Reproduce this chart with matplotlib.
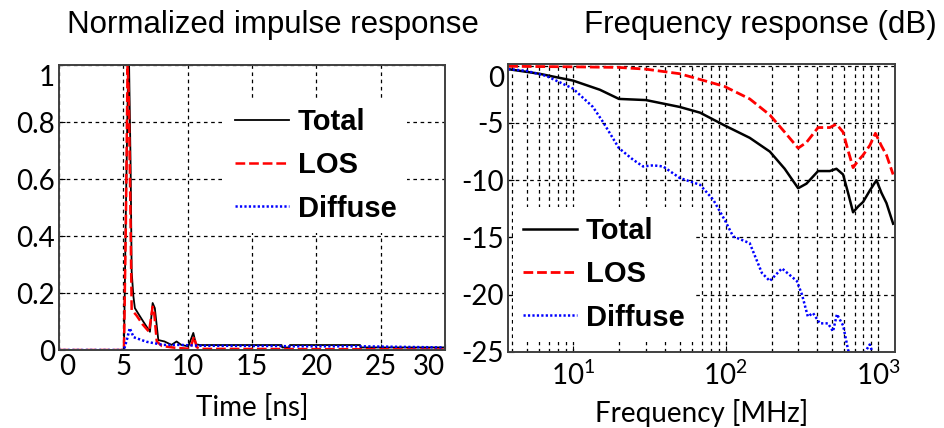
import matplotlib
matplotlib.use("Agg")
import matplotlib.pyplot as plt
from matplotlib.ticker import LogLocator, NullFormatter, FixedLocator

# impulse response (normalized), time in ns
total_t = [0, 5.05, 5.2, 5.38, 5.45, 5.57, 5.65, 5.78, 5.9, 6.2, 6.55, 7.07, 7.28, 7.45, 7.72,
           8.2, 8.75, 9.14, 9.5, 10.05, 10.44, 10.65, 10.96, 17.3, 17.35, 17.9, 17.95, 23.4, 23.45, 30]
total_h = [0, 0, 0.49, 1.0, 1.0, 0.64, 0.275, 0.19, 0.147, 0.125, 0.1, 0.064, 0.165, 0.147, 0.035,
           0.03, 0.018, 0.03, 0.018, 0.013, 0.06, 0.02, 0.0175, 0.0175, 0.009, 0.009, 0.0175, 0.0175, 0.009, 0.009]
los_t = [0, 5.05, 5.2, 5.33, 5.42, 5.55, 5.65, 6.0, 6.5, 7.0, 7.28, 7.4, 7.6, 8.0, 9.0, 10.2, 10.49, 10.7, 11.0, 30]
los_h = [0, 0, 0.45, 1.0, 0.9, 0.5, 0.14, 0.123, 0.09, 0.064, 0.152, 0.13, 0.03, 0.014, 0.008, 0.004,
         0.047, 0.01, 0.004, 0.002]
dif_t = [0, 5.05, 5.3, 5.5, 5.8, 6.8, 8.1, 9.4, 11, 17.3, 17.9, 23.4, 30]
dif_h = [0, 0, 0.04, 0.077, 0.045, 0.029, 0.018, 0.018, 0.015, 0.014, 0.013, 0.013, 0.009]

# frequency response in dB, frequency in MHz
tot_f = [3.76, 6, 10, 15, 20, 30, 50, 68, 98, 144, 195, 244, 299, 339, 404, 482, 533, 589, 635,
         685, 739, 797, 882, 975, 1051, 1134, 1254]
tot_db = [-0.3, -0.7, -1.3, -2.1, -2.9, -3.0, -3.6, -4.1, -5.2, -6.3, -7.5, -9.0, -10.7, -10.3,
          -9.2, -9.2, -9.0, -9.5, -11.1, -12.8, -12.3, -11.9, -10.9, -10.0, -11.1, -12.0, -13.8]
los_f = [3.76, 10, 20, 30, 50, 68, 98, 144, 195, 244, 299, 339, 404, 482, 533, 589, 635, 685,
         739, 797, 882, 960, 1051, 1134, 1254]
los_db = [-0.05, -0.1, -0.15, -0.3, -0.7, -1.2, -1.8, -2.9, -4.3, -5.8, -7.2, -6.7, -5.4, -5.4,
          -5.1, -5.8, -7.4, -8.9, -8.3, -7.8, -6.96, -5.9, -7.0, -7.8, -9.5]
dif_f = [3.76, 4.95, 6.7, 10, 13.5, 15.7, 20, 24.7, 28.8, 33.5, 39, 50, 68, 83, 99, 112, 144, 173,
         195, 234, 293, 317, 346, 374, 415, 469, 506, 537, 590, 635, 700, 822, 880, 930, 1050, 1254]
dif_db = [-0.3, -0.45, -0.9, -2.0, -3.6, -4.9, -7.2, -8.2, -8.8, -8.7, -8.8, -9.8, -10.4, -11.7,
          -13.5, -14.9, -15.5, -18.1, -18.8, -17.7, -18.8, -20.0, -21.9, -21.6, -22.5, -22.5, -23.2,
          -21.7, -22.7, -24.8, -26.5, -25.0, -24.35, -25.2, -27, -28.5]

labels = ["Total", "LOS", "Diffuse"]
time_ticks = [0, 5, 10, 15, 20, 25, 30]
h_ticks = [0, 0.2, 0.4, 0.6, 0.8, 1]
h_ticklabels = ["0", "0.2", "0.4", "0.6", "0.8", "1"]
db_ticks = [0, -5, -10, -15, -20, -25]

plt.rcParams["font.family"] = ["Lato", "DejaVu Sans"]
plt.rcParams["axes.unicode_minus"] = False
plt.rcParams["lines.scale_dashes"] = False

tick_fs = 20
leg_font = {"family": "Liberation Sans", "weight": "bold", "size": 21}
grid_kw = dict(color="black", linewidth=0.9, linestyle=(0, (2.6, 2.6)))
leg_kw = dict(loc="upper left", prop=leg_font, frameon=True, fancybox=False, framealpha=1,
              edgecolor="none", facecolor="white", handlelength=1.85, handletextpad=0.3,
              labelspacing=0.52, borderpad=0.35, borderaxespad=0)

fig = plt.figure(figsize=(9.45, 4.28), dpi=100)
ax1 = fig.add_axes([0.0624, 0.1822, 0.4085, 0.6659])
ax2 = fig.add_axes([0.5376, 0.1776, 0.4095, 0.6729])

# left: impulse response
ax1.plot(total_t, total_h, color="black", lw=1.3, label=labels[0])
ax1.plot(los_t, los_h, color="red", lw=1.8, linestyle=(0, (7, 2.8)), label=labels[1])
ax1.plot(dif_t, dif_h, color="blue", lw=1.8, linestyle=(0, (1.6, 1.6)), label=labels[2])
ax1.set_xlim(0, 30)
ax1.set_ylim(0, 1)
ax1.set_xticks(time_ticks)
ax1.set_yticks(h_ticks)
ax1.set_yticklabels(h_ticklabels)
ax1.grid(True, which="major", **grid_kw)
ax1.set_xlabel("Time [ns]", fontsize=20, labelpad=10)
xl = ax1.get_xticklabels()
xl[0].set_ha("left")
xl[-1].set_ha("right")
ax1.get_yticklabels()[-1].set_va("top")
ax1.legend(bbox_to_anchor=(225 / 945, 1 - 98 / 428), bbox_transform=fig.transFigure, **leg_kw)

# right: frequency response
ax2.semilogx(tot_f, tot_db, color="black", lw=1.8, label=labels[0])
ax2.semilogx(los_f, los_db, color="red", lw=2.0, linestyle=(0, (7, 2.8)), label=labels[1])
ax2.semilogx(dif_f, dif_db, color="blue", lw=1.8, linestyle=(0, (1.6, 1.6)), label=labels[2])
ax2.set_xlim(3.75, 1290)
ax2.set_ylim(-25, 0.15)
ax2.set_yticks(db_ticks)
ax2.xaxis.set_major_locator(FixedLocator([10, 100, 1000]))
ax2.xaxis.set_minor_locator(LogLocator(base=10, subs=range(2, 10), numticks=20))
ax2.xaxis.set_minor_formatter(NullFormatter())
ax2.grid(True, which="major", **grid_kw)
ax2.grid(True, which="minor", axis="x", **grid_kw)
ax2.set_xlabel("Frequency [MHz]", fontsize=20, labelpad=7)
ax2.get_yticklabels()[0].set_va("top")
ax2.legend(bbox_to_anchor=(513 / 945, 1 - 207 / 428), bbox_transform=fig.transFigure, **leg_kw)

for ax in (ax1, ax2):
    ax.tick_params(which="both", direction="in", labelsize=tick_fs, length=4, width=0.8, pad=3)
    ax.tick_params(which="minor", length=2)
    for s in ax.spines.values():
        s.set_color("#404040")
        s.set_linewidth(1.4)
ax2.tick_params(axis="x", which="major", pad=6)

fig.text(273 / 945, 1 - 25 / 428, "Normalized impulse response", ha="center", va="center",
         family="Liberation Sans", fontsize=22.5)
fig.text(760 / 945, 1 - 25 / 428, "Frequency response (dB)", ha="center", va="center",
         family="Liberation Sans", fontsize=22.5)

fig.savefig("out.png", dpi=100)
